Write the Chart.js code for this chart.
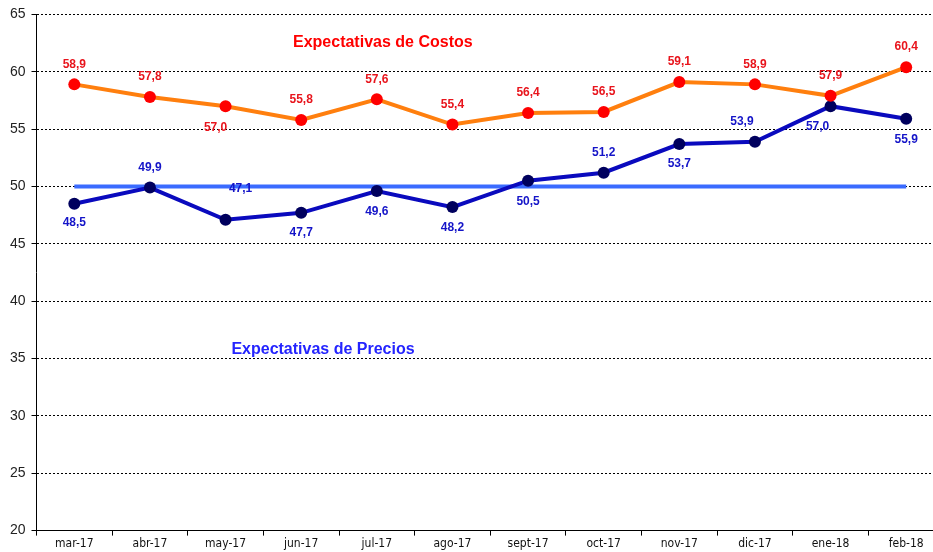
<!DOCTYPE html>
<html>
<head>
<meta charset="utf-8">
<script src="https://cdn.jsdelivr.net/npm/chart.js@4/dist/chart.umd.min.js"></script>
<style>
  html, body { margin: 0; padding: 0; background: #fff; overflow: hidden; }
  #clip { width: 933px; height: 552px; overflow: hidden; }
</style>
</head>
<body>
<div id="clip"><canvas id="expChart" width="950" height="552"></canvas></div>
<script>
var months = ['mar-17', 'abr-17', 'may-17', 'jun-17', 'jul-17', 'ago-17', 'sept-17', 'oct-17', 'nov-17', 'dic-17', 'ene-18', 'feb-18'];
var costos = [58.9, 57.8, 57.0, 55.8, 57.6, 55.4, 56.4, 56.5, 59.1, 58.9, 57.9, 60.4];
var precios = [48.5, 49.9, 47.1, 47.7, 49.6, 48.2, 50.5, 51.2, 53.7, 53.9, 57.0, 55.9];
var neutral = [50, 50, 50, 50, 50, 50, 50, 50, 50, 50, 50, 50];
var yTicks = [20, 25, 30, 35, 40, 45, 50, 55, 60, 65];

// where each value label sits relative to its point: [dx, dy]
var costosLabelPos = [[0,-20],[0,-20],[-10,22],[0,-20],[0,-20],[0,-20],[0,-20],[0,-20],[0,-20],[0,-20],[0,-20],[0,-20]];
var preciosLabelPos = [[0,19],[0,-20],[15,-31],[0,20],[0,21],[0,21],[0,21],[0,-20],[0,20],[-13,-20],[-13,21],[0,21]];

function fmt(v) {
    return v.toFixed(1).replace('.', ',');
}

const valueLabels = {
    id: 'valueLabels',
    afterDatasetsDraw(chart) {
        const ctx = chart.ctx;
        ctx.save();
        ctx.font = 'bold 12px "Liberation Sans", Arial, sans-serif';
        ctx.textAlign = 'center';
        ctx.textBaseline = 'middle';
        [[0, costos, costosLabelPos, '#e8141c'], [1, precios, preciosLabelPos, '#1414c8']].forEach(function (s) {
            const meta = chart.getDatasetMeta(s[0]);
            meta.data.forEach(function (pt, i) {
                ctx.fillStyle = s[3];
                ctx.fillText(fmt(s[1][i]), pt.x + s[2][i][0], pt.y + s[2][i][1]);
            });
        });
        // series titles
        const x = chart.scales.x, y = chart.scales.y;
        ctx.font = 'bold 16px "Liberation Sans", Arial, sans-serif';
        ctx.fillStyle = '#ff0000';
        ctx.fillText('Expectativas de Costos', (x.getPixelForValue(3) + x.getPixelForValue(5)) / 2 + 6, y.getPixelForValue(62.55));
        ctx.fillStyle = '#2424ff';
        ctx.fillText('Expectativas de Precios', (x.getPixelForValue(2) + x.getPixelForValue(5)) / 2 - 16, y.getPixelForValue(35.75));
        ctx.restore();
    }
};

const config = {
    type: 'line',
    data: {
        labels: months,
        datasets: [
            {
                label: 'Expectativas de Costos',
                data: costos,
                borderColor: '#ff7f0e',
                backgroundColor: '#ff0000',
                borderWidth: 4,
                pointRadius: 6,
                pointBorderWidth: 0,
                pointBackgroundColor: '#ff0000',
                tension: 0,
                order: 1,
            },
            {
                label: 'Expectativas de Precios',
                data: precios,
                borderColor: '#0a0abe',
                backgroundColor: '#000066',
                borderWidth: 4,
                pointRadius: 6,
                pointBorderWidth: 0,
                pointBackgroundColor: '#00005e',
                tension: 0,
                order: 2,
            },
            {
                label: '50',
                data: neutral,
                borderColor: '#3a6bff',
                borderWidth: 4,
                pointRadius: 0,
                order: 3,
            },
        ],
    },
    options: {
        responsive: false,
        animation: false,
        layout: { padding: { left: 4, right: 0, top: 10, bottom: 0 } },
        plugins: {
            legend: { display: false },
            tooltip: { enabled: false },
        },
        scales: {
            x: {
                offset: true,
                grid: {
                    offset: true,
                    drawOnChartArea: false,
                    drawTicks: true,
                    tickLength: 5,
                    color: '#000',
                },
                border: { color: '#000', width: 1 },
                ticks: {
                    color: '#111',
                    padding: 1,
                    maxRotation: 0,
                    autoSkip: false,
                    font: { family: '"Liberation Sans Narrow", "DejaVu Sans Condensed", sans-serif', size: 12 },
                },
            },
            y: {
                min: 20,
                max: 65,
                afterBuildTicks: function (axis) {
                    axis.ticks = yTicks.map(function (v) { return { value: v }; });
                },
                afterFit: function (axis) {
                    axis.width = 32.5;
                },
                grid: {
                    color: '#000',
                    lineWidth: 1,
                    tickLength: 5,
                },
                border: { color: '#000', width: 1, dash: [2, 2] },
                ticks: {
                    color: '#222',
                    padding: 6,
                    font: { family: '"Liberation Sans", Arial, sans-serif', size: 14 },
                },
            },
        },
    },
    plugins: [valueLabels],
};

const expChart = new Chart(document.getElementById('expChart'), config);
</script>
</body>
</html>
